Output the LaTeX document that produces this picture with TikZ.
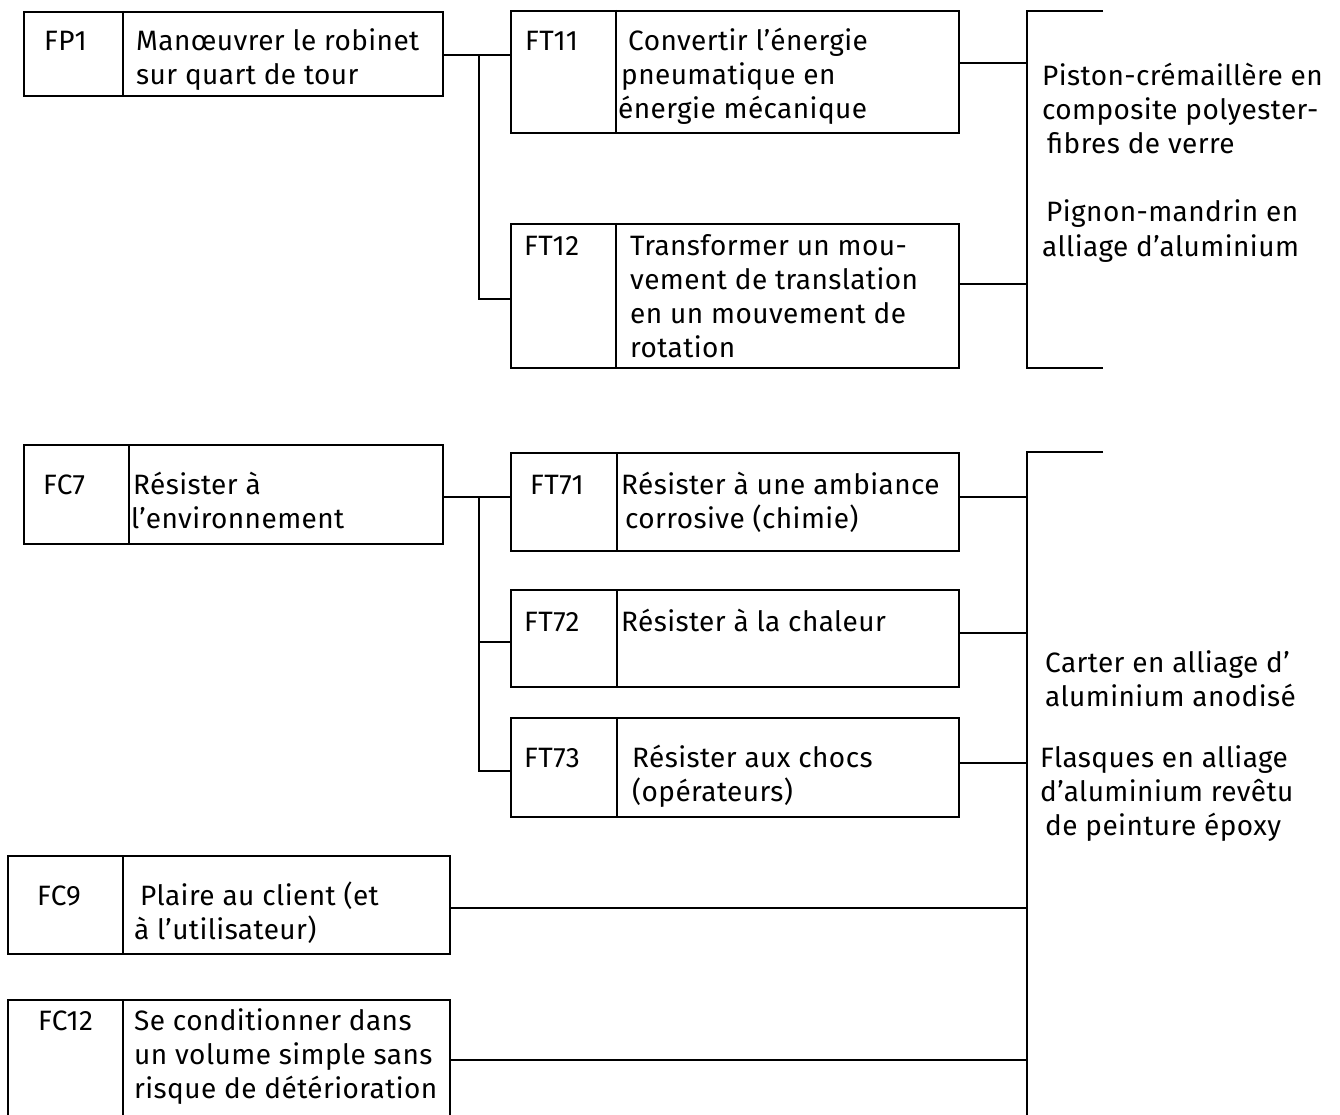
\documentclass[tikz,border=0pt]{standalone}
\usepackage{fontspec}
\setmainfont{Fira Sans}[LetterSpace=1.5]
\begin{document}
\begin{tikzpicture}[x=1pt,y=-1pt,
  fbox/.style={draw,line width=1.6pt,inner sep=0pt,anchor=north west},
  ln/.style={line width=1.6pt},
  txt/.style={anchor=base west,inner sep=0pt,font=\fontsize{28}{34}\selectfont}]
\useasboundingbox (0,0) rectangle (1340,1115);
\begin{scope}
\clip (0,0) rectangle (1340,1115);
% ---------- group 1 ----------
\node[fbox,minimum width=419pt,minimum height=84pt] (fp1) at (23,11) {};
\node[fbox,minimum width=448pt,minimum height=122pt] (ft11) at (510,10) {};
\node[fbox,minimum width=448pt,minimum height=144pt] (ft12) at (510,223) {};
\draw[ln] ([xshift=100pt]fp1.north west) -- ([xshift=100pt]fp1.south west);
\draw[ln] ([xshift=106pt]ft11.north west) -- ([xshift=106pt]ft11.south west);
\draw[ln] ([xshift=106pt]ft12.north west) -- ([xshift=106pt]ft12.south west);

\coordinate (j1) at (479,55);
\coordinate (j1b) at (479,299);
\draw[ln] (fp1.east |- j1) -- (ft11.west |- j1);
\draw[ln] (j1) -- (j1b) -- (ft12.west |- j1b);

\coordinate (b1t) at (1027,11);
\coordinate (b1te) at (1103,11);
\coordinate (b1b) at (1027,368);
\coordinate (b1be) at (1103,368);
\coordinate (c11) at (1027,63);
\coordinate (c12) at (1027,284);
\draw[ln] (b1te) -- (b1t) -- (b1b) -- (b1be);
\draw[ln] (ft11.east |- c11) -- (c11);
\draw[ln] (ft12.east |- c12) -- (c12);

\node[txt] (tfp1) at (44,51) {FP1};
\node[txt] (tfp1a) at (136,51) {Manœuvrer le robinet};
\node[txt] (tfp1b) at (136,85) {sur quart de tour};
\node[txt] (tft11) at (525,51) {FT11};
\node[txt] (tft11a) at (628,51) {Convertir l’énergie};
\node[txt] (tft11b) at (621,85) {pneumatique en};
\node[txt] (tft11c) at (618,119) {énergie mécanique};
\node[txt] (tft12) at (524,255) {FT12};
\node[txt] (tft12a) at (630,255) {Transformer un mou-};
\node[txt] (tft12b) at (630,289) {vement de translation};
\node[txt] (tft12c) at (630,323) {en un mouvement de};
\node[txt] (tft12d) at (630,357) {rotation};
\node[txt] (tm1a) at (1042,86) {Piston-crémaillère en};
\node[txt] (tm1b) at (1042,120) {composite polyester-};
\node[txt] (tm1c) at (1047,154) {fibres de verre};
\node[txt] (tm1d) at (1046,222) {Pignon-mandrin en};
\node[txt] (tm1e) at (1042,256) {alliage d’aluminium};

% ---------- group 2 ----------
\node[fbox,minimum width=419pt,minimum height=99pt] (fc7) at (23,444) {};
\node[fbox,minimum width=448pt,minimum height=98pt] (ft71) at (510,452) {};
\node[fbox,minimum width=448pt,minimum height=97pt] (ft72) at (510,589) {};
\node[fbox,minimum width=448pt,minimum height=99pt] (ft73) at (510,717) {};
\node[fbox,minimum width=442pt,minimum height=98pt] (fc9) at (7,855) {};
\node[fbox,minimum width=442pt,minimum height=140pt] (fc12) at (7,999) {};
\draw[ln] ([xshift=106pt]fc7.north west) -- ([xshift=106pt]fc7.south west);
\draw[ln] ([xshift=107pt]ft71.north west) -- ([xshift=107pt]ft71.south west);
\draw[ln] ([xshift=107pt]ft72.north west) -- ([xshift=107pt]ft72.south west);
\draw[ln] ([xshift=107pt]ft73.north west) -- ([xshift=107pt]ft73.south west);
\draw[ln] ([xshift=116pt]fc9.north west) -- ([xshift=116pt]fc9.south west);
\draw[ln] ([xshift=116pt]fc12.north west) -- ([xshift=116pt]fc12.south west);

\coordinate (j2) at (479,497);
\coordinate (j2b) at (479,642);
\coordinate (j2c) at (479,771);
\draw[ln] (fc7.east |- j2) -- (ft71.west |- j2);
\draw[ln] (j2) -- (j2c) -- (ft73.west |- j2c);
\draw[ln] (j2b) -- (ft72.west |- j2b);

\coordinate (b2t) at (1027,452);
\coordinate (b2te) at (1103,452);
\coordinate (b2b) at (1027,1125);
\coordinate (c71) at (1027,497);
\coordinate (c72) at (1027,633);
\coordinate (c73) at (1027,763);
\coordinate (c9) at (1027,908);
\coordinate (c12) at (1027,1060);
\draw[ln] (b2te) -- (b2t) -- (b2b);
\draw[ln] (ft71.east |- c71) -- (c71);
\draw[ln] (ft72.east |- c72) -- (c72);
\draw[ln] (ft73.east |- c73) -- (c73);
\draw[ln] (fc9.east |- c9) -- (c9);
\draw[ln] (fc12.east |- c12) -- (c12);

\node[txt] (tfc7) at (43,494) {FC7};
\node[txt] (tfc7a) at (133,494) {Résister à};
\node[txt] (tfc7b) at (131,528) {l’environnement};
\node[txt] (tft71) at (530,494) {FT71};
\node[txt] (tft71a) at (621,494) {Résister à une ambiance};
\node[txt] (tft71b) at (625,528) {corrosive (chimie)};
\node[txt] (tft72) at (524,631) {FT72};
\node[txt] (tft72a) at (621,631) {Résister à la chaleur};
\node[txt] (tft73) at (524,767) {FT73};
\node[txt] (tft73a) at (632,767) {Résister aux chocs};
\node[txt] (tft73b) at (632,801) {(opérateurs)};
\node[txt] (tm2a) at (1045,672) {Carter en alliage d’};
\node[txt] (tm2b) at (1045,706) {aluminium anodisé};
\node[txt] (tm2c) at (1040,767) {Flasques en alliage};
\node[txt] (tm2d) at (1040,801) {d’aluminium revêtu};
\node[txt] (tm2e) at (1045,835) {de peinture époxy};
\node[txt] (tfc9) at (37,905) {FC9};
\node[txt] (tfc9a) at (140,905) {Plaire au client (et};
\node[txt] (tfc9b) at (134,939) {à l’utilisateur)};
\node[txt] (tfc12) at (38,1030) {FC12};
\node[txt] (tfc12a) at (134,1030) {Se conditionner dans};
\node[txt] (tfc12b) at (134,1064) {un volume simple sans};
\node[txt] (tfc12c) at (134,1098) {risque de détérioration};
\end{scope}
\end{tikzpicture}
\end{document}
